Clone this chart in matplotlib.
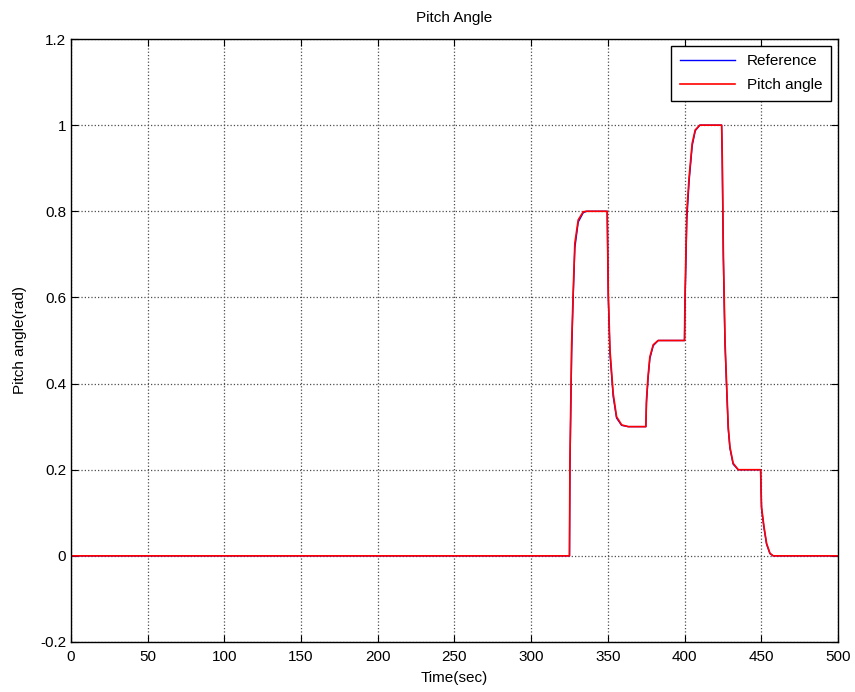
import matplotlib
matplotlib.use('Agg')
import matplotlib.pyplot as plt

plt.rcParams['font.family'] = ['Liberation Sans', 'DejaVu Sans']

# 时间 (sec) 与俯仰角 (rad)
t = [0, 325.0, 325.3, 326.4, 327.4, 328.5, 330.7, 334.0, 336.2, 349.6,
     350.3, 351.4, 353.5, 355.7, 359.0, 363.3, 374.8, 375.2, 376.2, 377.4,
     379.6, 382.8, 400.0, 400.3, 401.5, 403.0, 405.0, 407.0, 410.0, 424.2,
     424.6, 425.3, 426.4, 427.5, 428.5, 429.6, 431.7, 435.0, 449.6, 450.2,
     451.8, 453.5, 455.7, 457.8, 500]
pitch = [0, 0, 0.22, 0.49, 0.61, 0.726, 0.78, 0.799, 0.8, 0.8,
         0.61, 0.478, 0.377, 0.323, 0.304, 0.3, 0.3, 0.362, 0.416, 0.462,
         0.49, 0.5, 0.5, 0.6, 0.8, 0.88, 0.958, 0.989, 1.0, 1.0,
         0.927, 0.71, 0.5, 0.393, 0.3, 0.253, 0.215, 0.2, 0.2, 0.114,
         0.068, 0.029, 0.006, 0.0, 0]
reference = [0, 0, 0.2, 0.47, 0.6, 0.715, 0.775, 0.797, 0.8, 0.8,
             0.6, 0.47, 0.37, 0.32, 0.303, 0.3, 0.3, 0.355, 0.41, 0.458,
             0.488, 0.5, 0.5, 0.58, 0.78, 0.87, 0.952, 0.987, 1.0, 1.0,
             0.92, 0.69, 0.49, 0.385, 0.295, 0.25, 0.213, 0.2, 0.2, 0.11,
             0.065, 0.027, 0.005, 0.0, 0]

fig = plt.figure(figsize=(8.55, 6.92), dpi=100)
ax = fig.add_axes([0.083, 0.0723, 0.897, 0.8713])

ax.plot(t, reference, color='blue', lw=1.0, label='Reference')
ax.plot(t, pitch, color='red', lw=1.2, label='Pitch angle')

ax.set_xlim(0, 500)
ax.set_ylim(-0.2, 1.2)
ax.set_xticks(range(0, 501, 50))
ax.set_yticks([-0.2, 0, 0.2, 0.4, 0.6, 0.8, 1, 1.2])
ax.set_yticklabels(['-0.2', '0', '0.2', '0.4', '0.6', '0.8', '1', '1.2'])
ax.tick_params(direction='in', top=True, right=True, labelsize=11, length=5)
ax.tick_params(axis='x', pad=6)
ax.grid(True, color='0.3', linestyle=':', linewidth=0.9)
for s in ax.spines.values():
    s.set_linewidth(1.0)

ax.set_title('Pitch Angle', fontsize=11, pad=12)
ax.set_xlabel('Time(sec)', fontsize=11, labelpad=5)
ax.set_ylabel('Pitch angle(rad)', fontsize=11, labelpad=9)
leg = ax.legend(loc='upper right', fontsize=11, fancybox=False, framealpha=1,
                edgecolor='black', borderaxespad=0.45, handlelength=3.6,
                labelspacing=0.65, borderpad=0.55)
leg.get_frame().set_linewidth(1.0)

plt.savefig('out.png', dpi=100)
